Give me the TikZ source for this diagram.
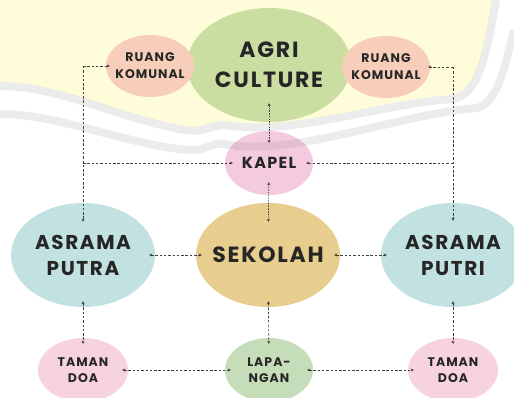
\documentclass[tikz,border=0pt]{standalone}
\usepackage{fontspec}
\newfontfamily\gothic{Poppins}[LetterSpace=8]
\usetikzlibrary{arrows.meta,shapes.geometric,positioning,calc}
\definecolor{agrigreen}{RGB}{202,222,162}
\definecolor{peach}{RGB}{246,206,186}
\definecolor{kapelpink}{RGB}{244,202,222}
\definecolor{teal}{RGB}{193,226,224}
\definecolor{sand}{RGB}{232,206,142}
\definecolor{rose}{RGB}{247,211,226}
\definecolor{sage}{RGB}{198,221,186}
\definecolor{paleyellow}{RGB}{255,252,218}
\tikzset{
  bub/.style={ellipse, draw=none, inner sep=0pt},
  txt/.style={font=\gothic\bfseries, text=black!85, align=center},
  link/.style={draw=black!75, line width=0.65pt, dash pattern=on 2.5pt off 1.8pt,
    {Stealth[length=3pt,width=3pt]}-{Stealth[length=3pt,width=3pt]},
    shorten <=-6pt, shorten >=-6pt},
  oneway/.style={draw=black!75, line width=0.65pt, dash pattern=on 2.5pt off 1.8pt,
    -{Stealth[length=3pt,width=3pt]}}
}
\begin{document}
\begin{tikzpicture}[x=1pt,y=-1pt]
\useasboundingbox (0,0) rectangle (514,398);
% pale watermark band
\fill[paleyellow] (0,0) -- (0,82) .. controls (60,82) and (120,115) .. (185,126)
  .. controls (205,130) and (212,118) .. (232,122)
  .. controls (300,130) and (380,100) .. (450,95)
  .. controls (475,92) and (482,60) .. (492,0) -- cycle;
% Top row
\node[bub, fill=agrigreen, minimum width=164pt, minimum height=114pt,
  label={[txt, font=\gothic\bfseries\fontsize{22}{30}\selectfont]center:AGRI\\CULTURE}] (agri) at (269,65) {};
\node[bub, fill=peach, minimum width=88pt, minimum height=62pt,
  label={[txt, font=\gothic\bfseries\fontsize{12.5}{17}\selectfont]center:RUANG\\KOMUNAL}] (rkL) at (150,66) {};
\node[bub, fill=peach, minimum width=88pt, minimum height=62pt,
  label={[txt, font=\gothic\bfseries\fontsize{12.5}{17}\selectfont]center:RUANG\\KOMUNAL}] (rkR) at (386,67) {};
\node[bub, fill=kapelpink, minimum width=88pt, minimum height=64pt,
  label={[txt, font=\gothic\bfseries\fontsize{16}{20}\selectfont]center:KAPEL}] (kapel) at (269,163) {};
% Middle row
\node[bub, fill=teal, minimum width=144pt, minimum height=104pt,
  label={[txt, font=\gothic\bfseries\fontsize{20}{26}\selectfont]center:ASRAMA\\PUTRA}] (apL) at (83,255) {};
\node[bub, fill=sand, minimum width=144pt, minimum height=104pt,
  label={[txt, font=\gothic\bfseries\fontsize{22}{26}\selectfont]center:SEKOLAH}] (sek) at (268,255) {};
\node[bub, fill=teal, minimum width=144pt, minimum height=104pt,
  label={[txt, font=\gothic\bfseries\fontsize{20}{26}\selectfont]center:ASRAMA\\PUTRI}] (apR) at (453,255) {};
% Bottom row
\node[bub, fill=rose, minimum width=90pt, minimum height=64pt,
  label={[txt, font=\gothic\bfseries\fontsize{12.5}{16}\selectfont]center:TAMAN\\DOA}] (tdL) at (83,370) {};
\node[bub, fill=sage, minimum width=88pt, minimum height=64pt,
  label={[txt, font=\gothic\bfseries\fontsize{12.5}{16}\selectfont]center:LAPA-\\NGAN}] (lap) at (269,370) {};
\node[bub, fill=rose, minimum width=90pt, minimum height=64pt,
  label={[txt, font=\gothic\bfseries\fontsize{12.5}{16}\selectfont]center:TAMAN\\DOA}] (tdR) at (453,370) {};
% Corner points of the outer routes
\coordinate (cl1) at (83,66);
\coordinate (cl2) at (83,163);
\coordinate (cr1) at (453,67);
\coordinate (cr2) at (453,163);
% Outer routes
\draw[oneway, shorten >=-4pt] (cl1) -- (rkL);
\draw[oneway, shorten >=-8pt] (cl2) -- (kapel);
\draw[oneway, shorten >=-19pt] (cl1) -- (apL);
\draw[oneway, shorten >=-2pt] (cr1) -- (rkR);
\draw[oneway, shorten >=-7pt] (cr2) -- (kapel);
\draw[oneway, shorten >=-18pt] (cr1) -- (apR);
% Centre spine
\draw[link, dash pattern=on 1.5pt off 1.2pt, shorten <=-19pt, shorten >=-12pt] (agri) -- (kapel);
\draw[link, dash pattern=on 1.5pt off 1.2pt, shorten <=-13pt, shorten >=-19pt] (kapel) -- (sek);
% Neighbour links
\foreach \a/\b in {apL/sek, sek/apR, tdL/lap, lap/tdR, apL/tdL, sek/lap, apR/tdR}
  \draw[link] (\a) -- (\b);
% watermark waves on top
\begin{scope}[draw=gray, opacity=0.15, line width=8pt]
\draw (0,86) .. controls (60,86) and (120,119) .. (185,130)
  .. controls (205,134) and (212,122) .. (232,126)
  .. controls (300,134) and (380,104) .. (452,99)
  .. controls (477,96) and (486,60) .. (496,0);
\draw (0,114) .. controls (60,114) and (130,146) .. (190,150)
  .. controls (205,152) and (212,140) .. (230,145)
  .. controls (300,155) and (400,114) .. (478,108)
  .. controls (500,100) and (506,60) .. (514,30);
\end{scope}
\end{tikzpicture}
\end{document}
